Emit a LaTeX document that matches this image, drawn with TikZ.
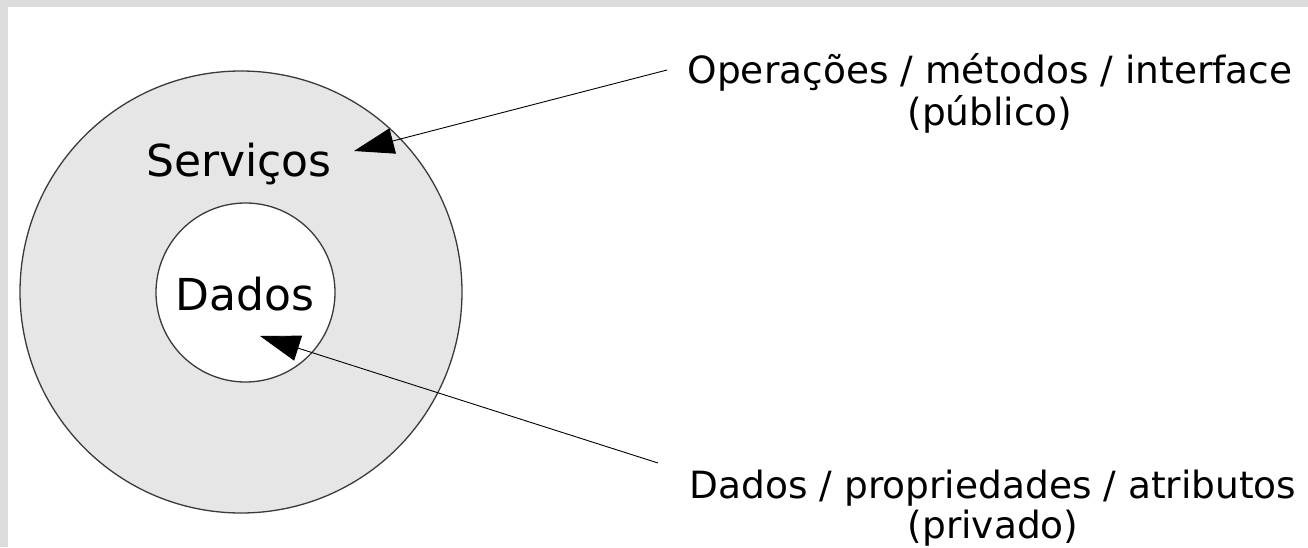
\documentclass[tikz,border=0pt]{standalone}
\usepackage{fontspec}
\setmainfont{DejaVu Sans}
\usetikzlibrary{arrows.meta}
\definecolor{bgframe}{HTML}{DCDCDC}
\definecolor{ringfill}{HTML}{E6E6E6}
\definecolor{ringline}{HTML}{3A3A3A}
\begin{document}
\begin{tikzpicture}[x=1pt,y=1pt,
  ring/.style={draw=ringline, line width=1.3pt, circle, inner sep=0pt},
  biglbl/.style={font=\fontsize{44}{52}\selectfont, inner sep=0pt},
  sidelbl/.style={font=\fontsize{37.5}{39}\selectfont, align=center, inner sep=0pt},
  pointer/.style={draw=black, line width=0.9pt, -{Triangle[length=40pt,width=26pt]}}]
\useasboundingbox (0,0) rectangle (1308,547);
\fill[bgframe] (0,0) rectangle (1308,547);
\fill[white] (8,0) rectangle (1308,540);
\node[ring, fill=ringfill, minimum size=442pt] (outer) at (241,255) {};
\node[ring, fill=white, minimum size=179pt] (inner) at (245.5,254.5) {};
\node[biglbl, anchor=base] (serv) at (239,370) {Serviços};
\node[biglbl, anchor=base] (dados) at (245,237) {Dados};
\node[sidelbl, anchor=north] (pub) at (990,494) {Operações / métodos / interface\\[3pt](público)};
\node[sidelbl, anchor=north] (priv) at (993,77) {Dados / propriedades / atributos\\[1pt](privado)};
\coordinate (a1) at (667,477);
\coordinate (t1) at (354,396);
\coordinate (a2) at (658,84);
\coordinate (t2) at (260,211);
\draw[pointer] (a1) -- (t1);
\draw[pointer] (a2) -- (t2);
\end{tikzpicture}
\end{document}
